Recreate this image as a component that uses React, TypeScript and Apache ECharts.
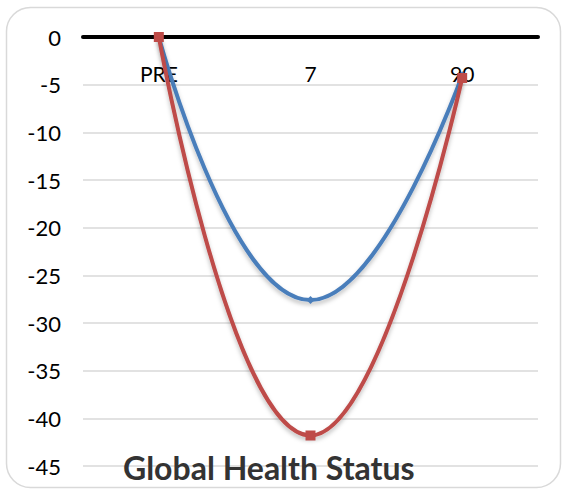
import React, { useEffect, useRef } from "react";
import * as echarts from "echarts";

const categories = ["PRE", "7", "90"];
const blueValues = [0, -27.6, -4.0];
const redValues = [0, -41.8, -4.3];
const yTicks = { min: -45, max: 0, interval: 5 };

export default function App() {
  const ref = useRef<HTMLDivElement>(null);
  useEffect(() => {
    if (!ref.current) return;
    const chart = echarts.init(ref.current, null, { renderer: "svg" });
    const font = "Lato, 'Liberation Sans', sans-serif";
    chart.setOption({
      animation: false,
      backgroundColor: "#ffffff",
      grid: { left: 83, right: 25, top: 37, bottom: 25 },
      graphic: [
        {
          type: "rect",
          shape: { x: 6.5, y: 7.5, width: 554, height: 480, r: 24 },
          style: { fill: "none", stroke: "#d9d9d9", lineWidth: 1.5 },
          z: -1,
        },
      ],
      title: {
        text: "Global Health Status",
        left: 118,
        top: 446,
        textStyle: {
          fontFamily: font,
          fontSize: 32,
          fontWeight: "bold",
          color: "#333333",
        },
      },
      xAxis: {
        type: "category",
        data: categories,
        position: "top",
        boundaryGap: true,
        axisLine: { show: true, onZero: false, lineStyle: { color: "#000000", width: 4 } },
        axisTick: { show: false },
        axisLabel: {
          inside: true,
          margin: 26,
          fontFamily: font,
          fontSize: 21,
          color: "#000000",
        },
        splitLine: { show: false },
        z: 3,
      },
      yAxis: {
        type: "value",
        min: yTicks.min,
        max: yTicks.max,
        interval: yTicks.interval,
        axisLine: { show: false },
        axisTick: { show: false },
        axisLabel: {
          margin: 22,
          fontFamily: font,
          fontSize: 22,
          color: "#000000",
        },
        splitLine: { lineStyle: { color: "#d9d9d9", width: 1.5 } },
      },
      series: [
        {
          type: "line",
          data: blueValues,
          smooth: 0.5,
          symbol: "diamond",
          symbolSize: 8,
          lineStyle: {
            color: "#4a7ebb",
            width: 4,
            shadowColor: "rgba(0,0,0,0.25)",
            shadowBlur: 4,
            shadowOffsetY: 3,
          },
          itemStyle: { color: "#4a7ebb" },
          z: 4,
        },
        {
          type: "line",
          data: redValues,
          smooth: 0.5,
          symbol: "rect",
          symbolSize: 10,
          lineStyle: {
            color: "#be4b48",
            width: 4,
            shadowColor: "rgba(0,0,0,0.25)",
            shadowBlur: 4,
            shadowOffsetY: 3,
          },
          itemStyle: { color: "#be4b48" },
          z: 5,
        },
      ],
    });
    return () => chart.dispose();
  }, []);
  return (
    <div
      ref={ref}
      style={{ position: "fixed", left: 0, top: 0, width: 563, height: 491 }}
    />
  );
}
